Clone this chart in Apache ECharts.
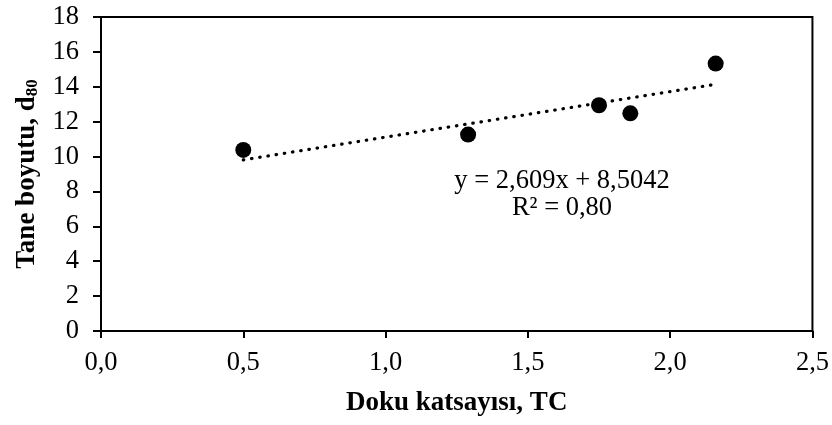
<!DOCTYPE html>
<html>
<head>
<meta charset="utf-8">
<script src="https://cdn.jsdelivr.net/npm/echarts@6/dist/echarts.min.js"></script>
<style>
  html, body { margin: 0; padding: 0; background: #fff; }
  #chart { width: 832px; height: 425px; }
</style>
</head>
<body>
<div id="chart"></div>
<script>
// veri
const tcValues = [0.5, 1.29, 1.75, 1.86, 2.16];
const d80Values = [10.38, 11.26, 12.94, 12.48, 15.33];
const slope = 2.609;
const intercept = 8.5042;
const r2Text = '0,80';

const font = 'Liberation Serif, Times New Roman, serif';

const points = tcValues.map((x, i) => [x, d80Values[i]]);
const xMin = Math.min(...tcValues);
const xMax = Math.max(...tcValues);
const trend = [[xMin, slope * xMin + intercept], [xMax, slope * xMax + intercept]];

const comma = (v, d) => v.toFixed(d).replace('.', ',');

const chart = echarts.init(document.getElementById('chart'));
chart.setOption({
  animation: false,
  grid: {
    left: 101, right: 18, top: 17, bottom: 94,
    show: true, borderColor: '#000', borderWidth: 2
  },
  xAxis: {
    type: 'value', min: 0, max: 2.5, interval: 0.5,
    name: 'Doku katsayısı, TC',
    nameLocation: 'middle', nameGap: 59,
    nameTextStyle: { fontFamily: font, fontSize: 27, fontWeight: 'bold', color: '#000' },
    axisLine: { lineStyle: { color: '#000', width: 2 } },
    axisTick: { show: true, length: 7, lineStyle: { color: '#000', width: 2 } },
    axisLabel: { margin: 19, fontFamily: font, fontSize: 26.5, color: '#000', formatter: v => comma(v, 1) },
    splitLine: { show: false }
  },
  yAxis: {
    type: 'value', min: 0, max: 18, interval: 2,
    name: '{a|Tane boyutu, d}{s|80}',
    nameLocation: 'middle', nameGap: 57, nameRotate: 90,
    nameTextStyle: {
      rich: {
        a: { fontFamily: font, fontSize: 27, fontWeight: 'bold', color: '#000', lineHeight: 30 },
        s: { fontFamily: font, fontSize: 17, fontWeight: 'bold', color: '#000', verticalAlign: 'bottom', lineHeight: 30 }
      }
    },
    axisLine: { show: true, lineStyle: { color: '#000', width: 2 } },
    axisTick: { show: true, length: 8, lineStyle: { color: '#000', width: 2 } },
    axisLabel: { margin: 22, fontFamily: font, fontSize: 26.5, color: '#000' },
    splitLine: { show: false }
  },
  series: [
    {
      type: 'line',
      data: trend,
      symbol: 'none',
      lineStyle: { color: '#000', width: 3.2, type: [0.5, 7.8], cap: 'round' },
      z: 1
    },
    {
      type: 'scatter',
      data: points,
      symbol: 'circle',
      symbolSize: 16,
      itemStyle: { color: '#000', opacity: 1 },
      z: 2
    }
  ],
  graphic: [{
    type: 'text',
    x: 562, y: 168,
    style: {
      text: 'y = ' + comma(slope, 3) + 'x + ' + comma(intercept, 4) + '\nR² = ' + r2Text,
      fontFamily: font, fontSize: 26.5, lineHeight: 27,
      fill: '#000', textAlign: 'center', textVerticalAlign: 'top'
    }
  }]
});
</script>
</body>
</html>
